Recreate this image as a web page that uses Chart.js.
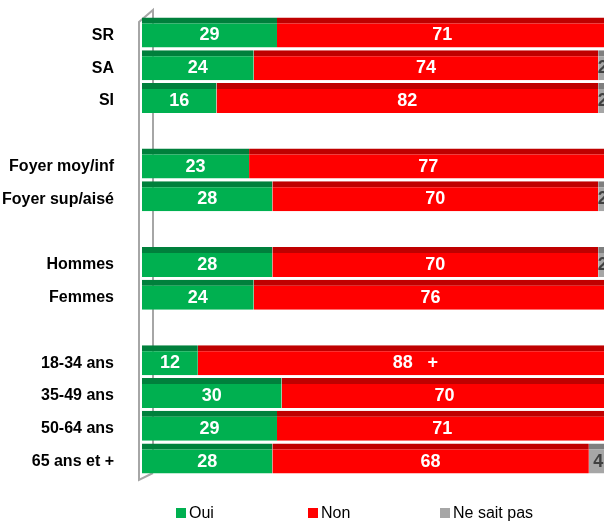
<!DOCTYPE html>
<html>
<head>
<meta charset="utf-8">
<script src="https://cdn.jsdelivr.net/npm/chart.js@4/dist/chart.umd.min.js"></script>
<style>
  html, body { margin: 0; padding: 0; background: #fff; }
  #chart { display: block; }
</style>
</head>
<body>
<canvas id="chart" width="604" height="521"></canvas>
<script>
const categories = ['SR', 'SA', 'SI', '', 'Foyer moy/inf', 'Foyer sup/aisé', '', 'Hommes', 'Femmes', '', '18-34 ans', '35-49 ans', '50-64 ans', '65 ans et +'];
const oui = [29, 24, 16, null, 23, 28, null, 28, 24, null, 12, 30, 29, 28];
const non = [71, 74, 82, null, 77, 70, null, 70, 76, null, 88, 70, 71, 68];
const nsp = [null, 2, 2, null, null, 2, null, 2, null, null, null, null, null, 4];
const nonMarks = ['', '', '', '', '', '', '', '', '', '', '+', '', '', ''];
const seriesNames = ['Oui', 'Non', 'Ne sait pas'];

const FONT = "'Liberation Sans', Arial, sans-serif";

// 3D-ish wall on the left of the bars
const wallPlugin = {
  id: 'wall',
  beforeDatasetsDraw(chart) {
    const { ctx, chartArea: a } = chart;
    const front = a.left - 3, back = a.left + 11;
    ctx.save();
    ctx.strokeStyle = '#a6a6a6';
    ctx.lineWidth = 2;
    ctx.beginPath();
    ctx.moveTo(back, a.bottom - 2);
    ctx.lineTo(back, a.top - 6);
    ctx.lineTo(front, a.top + 6);
    ctx.lineTo(front, a.bottom + 5);
    ctx.lineTo(back, a.bottom - 2);
    ctx.stroke();
    ctx.restore();
  }
};

// value labels in the middle of each segment
const labelPlugin = {
  id: 'valueLabels',
  afterDatasetsDraw(chart) {
    const { ctx } = chart;
    ctx.save();
    ctx.font = 'bold 18px ' + FONT;
    ctx.textAlign = 'center';
    ctx.textBaseline = 'middle';
    chart.data.datasets.forEach((ds, di) => {
      const meta = chart.getDatasetMeta(di);
      meta.data.forEach((bar, i) => {
        const v = ds.data[i];
        if (v == null) return;
        const x = (bar.x + bar.base) / 2;
        const y = bar.y + 3;
        ctx.fillStyle = di === 2 ? '#404040' : '#ffffff';
        ctx.fillText(String(v), x, y);
        if (di === 1 && nonMarks[i]) {
          ctx.fillText(nonMarks[i], x + 30, y);
        }
      });
    });
    ctx.restore();
  }
};

// legend row at the bottom
const legendPlugin = {
  id: 'bottomLegend',
  afterDraw(chart) {
    const { ctx } = chart;
    const y = chart.height - 8;
    ctx.save();
    ctx.font = '16px ' + FONT;
    ctx.textBaseline = 'middle';
    ctx.textAlign = 'left';
    chart.data.datasets.forEach((ds, i) => {
      const x = 176 + i * 132;
      ctx.fillStyle = ds.backgroundColor;
      ctx.fillRect(x, y - 5, 10, 10);
      ctx.fillStyle = '#000';
      ctx.fillText(ds.label, x + 13, y + 1);
    });
    ctx.restore();
  }
};

new Chart(document.getElementById('chart'), {
  type: 'bar',
  data: {
    labels: categories,
    datasets: [
      { label: seriesNames[0], data: oui, backgroundColor: '#00b050', borderColor: '#00803c' },
      { label: seriesNames[1], data: non, backgroundColor: '#ff0000', borderColor: '#bf0000' },
      { label: seriesNames[2], data: nsp, backgroundColor: '#a6a6a6', borderColor: '#7f7f7f' }
    ]
  },
  options: {
    indexAxis: 'y',
    responsive: false,
    animation: false,
    layout: { padding: { top: 16, bottom: 46, left: 0, right: 0 } },
    datasets: {
      bar: {
        barPercentage: 0.915,
        categoryPercentage: 1,
        borderWidth: { top: 6, right: 0, bottom: 0, left: 0 },
        borderSkipped: false
      }
    },
    scales: {
      x: {
        stacked: true,
        display: false,
        min: 0,
        max: 99.25
      },
      y: {
        stacked: true,
        grid: { display: false },
        border: { display: false },
        ticks: {
          color: '#000',
          padding: 20,
          labelOffset: 3,
          font: { family: FONT, size: 16, weight: 'bold' }
        },
        afterFit(scale) {
          scale.width = 142;
          scale.paddingTop = 0;
          scale.paddingBottom = 0;
        }
      }
    },
    plugins: {
      legend: { display: false },
      tooltip: { enabled: false }
    }
  },
  plugins: [wallPlugin, labelPlugin, legendPlugin]
});
</script>
</body>
</html>
